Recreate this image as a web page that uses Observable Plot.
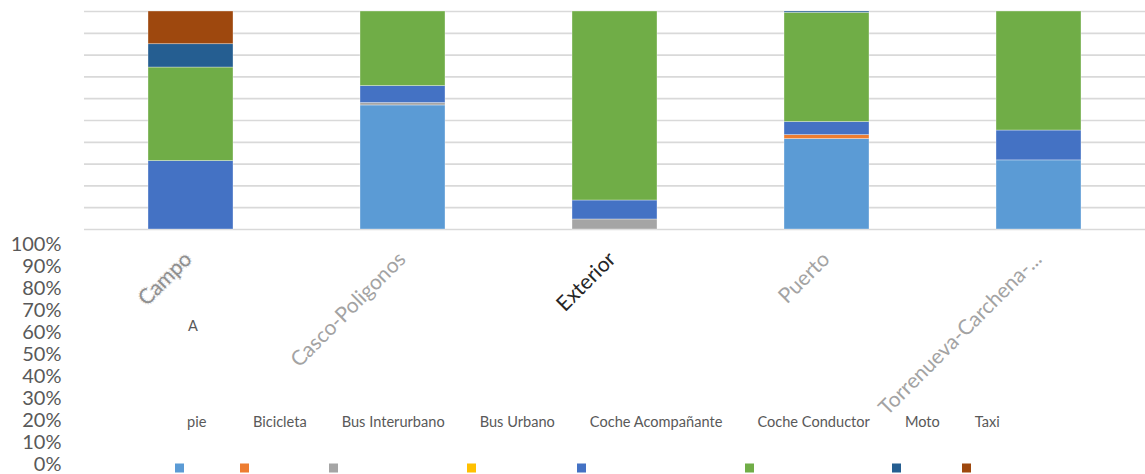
<!DOCTYPE html>
<html>
<head>
<meta charset="utf-8">
<script src="https://cdn.jsdelivr.net/npm/d3@7"></script>
<script src="https://cdn.jsdelivr.net/npm/@observablehq/plot@0.6"></script>
<style>
  body { margin: 0; background: #fff; }
  #chart { position: relative; width: 1145px; height: 474px; overflow: hidden; background: #fff; font-family: Lato, sans-serif; }
  #chart > svg, #chart > .layer { position: absolute; left: 0; top: 0; }
  #legend { position: absolute; left: 174.5px; top: 405px; }
  #legend .lg-swatch { margin-right: 22.5px; }
  #legend .lg-swatch:first-of-type { margin-right: 34px; }
  #legend .lg-swatch > svg { margin-right: 3.5px; transform: translateY(46.5px); }
  #wrapped { position: absolute; left: 188px; top: 317px; font: 14.6px Lato, sans-serif; color: #595959; }
</style>
</head>
<body>
<div id="chart"></div>
<script>
// Travel mode share by zone (percent of trips)
const categories = ["Campo", "Casco-Poligonos", "Exterior", "Puerto", "Torrenueva-Carchena-..."];
const modes = ["A pie", "Bicicleta", "Bus Interurbano", "Bus Urbano", "Coche Acompañante", "Coche Conductor", "Moto", "Taxi"];
const modeColors = ["#5B9BD5", "#ED7D31", "#A5A5A5", "#FFC000", "#4472C4", "#70AD47", "#255E91", "#9E480E"];

const aPie             = [0,    56.9, 0,    41.5, 31.7];
const bicicleta        = [0,    0,    0,    1.8,  0];
const busInterurbano   = [0,    1.1,  4.6,  0,    0];
const busUrbano        = [0,    0,    0,    0,    0];
const cocheAcompanante = [31.4, 7.8,  8.7,  6.0,  13.7];
const cocheConductor   = [42.9, 34.2, 86.7, 50.1, 54.6];
const moto             = [10.7, 0,    0,    0.6,  0];
const taxi             = [15.0, 0,    0,    0,    0];

const yTicks = [0, 10, 20, 30, 40, 50, 60, 70, 80, 90, 100];

const seriesValues = [aPie, bicicleta, busInterurbano, busUrbano, cocheAcompanante, cocheConductor, moto, taxi];
const rows = modes.flatMap((mode, i) =>
  categories.map((zone, j) => ({zone, mode, value: seriesValues[i][j]}))
);

const chart = document.getElementById("chart");

const labelOptions = {
  x: d => d, text: d => d, frameAnchor: "bottom", dy: 31,
  rotate: -45, textAnchor: "end", lineAnchor: "bottom", fontSize: 21
};

const bars = Plot.plot({
  width: 1145,
  height: 474,
  marginTop: 11,
  marginBottom: 245,
  marginLeft: 84,
  marginRight: 0,
  style: {fontFamily: "Lato, sans-serif", background: "transparent", overflow: "visible"},
  x: {domain: categories, paddingInner: 0.6, paddingOuter: 0.3, axis: null},
  y: {domain: [0, 100], axis: null},
  color: {type: "ordinal", domain: modes, range: modeColors},
  marks: [
    Plot.ruleY(yTicks, {stroke: "#d9d9d9", strokeWidth: 1.7}),
    Plot.barY(rows, {
      x: "zone", y: "value", fill: "mode",
      filter: d => d.value > 0,
      stroke: "white", strokeOpacity: 0.45, strokeWidth: 0.75
    }),
    // grainy label for the first zone
    Plot.text(categories.filter(d => d === "Campo"), {
      ...labelOptions, dx: 2,
      fill: "#8f8f8f", stroke: "#dadada", strokeWidth: 2.5,
      strokeDasharray: "1 1.4", paintOrder: "stroke"
    }),
    Plot.text(categories.filter(d => d === "Exterior"), {
      ...labelOptions, dx: 2, fill: "#262626"
    }),
    Plot.text(categories.filter(d => d !== "Campo" && d !== "Exterior"), {
      ...labelOptions, dx: 4, fill: "#a3a3a3"
    })
  ]
});
chart.appendChild(bars);

// percentage scale drawn in the lower-left column
const axis = Plot.plot({
  width: 1145,
  height: 474,
  marginTop: 244,
  marginBottom: 10,
  marginLeft: 61,
  marginRight: 0,
  style: {fontFamily: "Lato, sans-serif", background: "transparent", pointerEvents: "none"},
  y: {domain: [0, 100], axis: null},
  marks: [
    Plot.axisY(yTicks, {
      anchor: "left", tickSize: 0, tickPadding: 0,
      tickFormat: d => d + "%", fontSize: 20, fill: "#595959"
    })
  ]
});
chart.appendChild(axis);

const legend = Plot.legend({
  color: {type: "ordinal", domain: modes, range: modeColors},
  swatchSize: 9,
  className: "lg",
  tickFormat: d => d === modes[0] ? d.split(" ").slice(1).join(" ") : d,
  style: {fontFamily: "Lato, sans-serif", fontSize: "14.6px", color: "#595959"}
});
legend.id = "legend";
chart.appendChild(legend);

const wrapped = document.createElement("div");
wrapped.id = "wrapped";
wrapped.textContent = modes[0].split(" ")[0];
chart.appendChild(wrapped);
</script>
</body>
</html>
